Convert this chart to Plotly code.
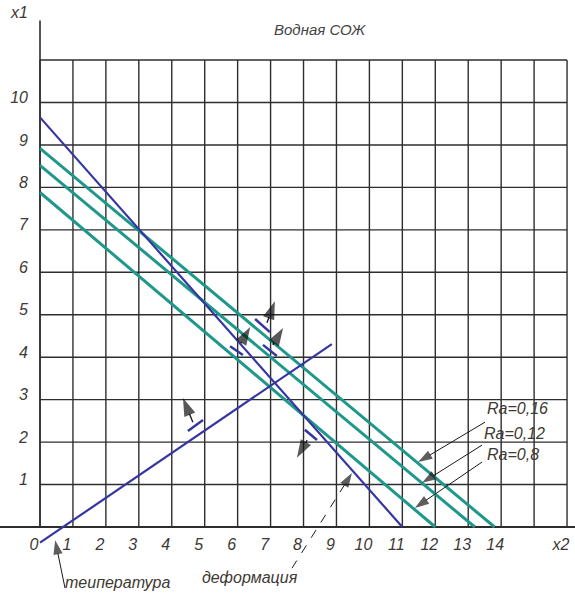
import plotly.graph_objects as go

# ---- data ----
grid_x2 = list(range(0, 17))          # vertical grid lines
grid_x1 = list(range(0, 12))          # horizontal grid lines
x2_ticks = list(range(0, 17))
x2_labels = [str(i) for i in range(0, 15)] + ["", "x2"]
x1_ticks = list(range(1, 11)) + [12]
x1_labels = [str(i) for i in range(1, 11)] + ["x1"]

# Ra lines (teal): intercepts on x1 axis and x2 axis
ra_names = ["Ra=0,16", "Ra=0,12", "Ra=0,8"]
ra_x1_start = [8.92, 8.52, 7.88]
ra_x2_end = [13.8, 13.2, 12.0]

# deformation line (blue)
def_x2 = [0.0, 11.0]
def_x1 = [9.65, 0.0]

# temperature line (blue)
temp_x2 = [0.0, 8.86]
temp_x1 = [-0.37, 4.31]

# short offset marks (x2a, x1a, x2b, x1b) and their arrows (tail -> head)
mark_segs = [(6.53, 4.90, 6.98, 4.59), (5.77, 4.26, 6.16, 4.05),
             (6.77, 4.29, 7.19, 4.03), (4.49, 2.26, 4.95, 2.52),
             (8.04, 2.29, 8.41, 2.05)]
mark_arrows = [(6.89, 4.81, 7.13, 5.32), (6.10, 4.33, 6.38, 4.71),
               (7.07, 4.29, 7.38, 4.69), (4.64, 2.47, 4.34, 3.04),
               (8.11, 2.05, 7.80, 1.63)]

# callouts: text position, arrow tail, arrow head
ra_text = [(14.51, 2.80), (14.42, 2.21), (14.36, 1.70)]
ra_tail = [(13.51, 2.47), (13.42, 1.93), (13.42, 1.53)]
ra_head = [(11.48, 1.53), (11.60, 1.04), (11.38, 0.45)]
temp_callout = [(0.76, -1.44), (0.46, -0.31)]   # tail, head
def_callout = [(7.65, -0.97), (9.47, 1.27)]     # tail, head

BLUE = "#3636a2"
TEAL = "#1f978a"
GRID = "#2e2e2e"
TXT = "#3d3933"
FONT = "Liberation Sans, Arial"

fig = go.Figure()


def arrow(tail, head, width=1.0, size=15, dash="solid", color="#1a1a1a"):
    fig.add_trace(go.Scatter(
        x=[tail[0], head[0]], y=[tail[1], head[1]], mode="lines+markers",
        line=dict(color=color, width=width, dash=dash),
        marker=dict(symbol="arrow", size=[0, size], angleref="previous",
                    color=color, line=dict(width=0)),
        hoverinfo="skip"))


# grid
gx, gy = [], []
for v in grid_x2:
    gx += [v, v, None]
    gy += [0, grid_x1[-1], None]
for h in grid_x1:
    gx += [grid_x2[0], grid_x2[-1], None]
    gy += [h, h, None]
fig.add_trace(go.Scatter(x=gx, y=gy, mode="lines",
                         line=dict(color=GRID, width=1.4), hoverinfo="skip"))
# vertical axis extension
fig.add_trace(go.Scatter(x=[0, 0], y=[0, 11.93], mode="lines",
                         line=dict(color=GRID, width=1.6), hoverinfo="skip"))

# Ra lines
for n, a, b in zip(ra_names, ra_x1_start, ra_x2_end):
    fig.add_trace(go.Scatter(x=[0, b], y=[a, 0], mode="lines", name=n,
                             line=dict(color=TEAL, width=3)))

fig.add_trace(go.Scatter(x=def_x2, y=def_x1, mode="lines", name="деформация",
                         line=dict(color=BLUE, width=2.2)))
fig.add_trace(go.Scatter(x=temp_x2, y=temp_x1, mode="lines", name="температура",
                         line=dict(color=BLUE, width=2.2)))

for s in mark_segs:
    fig.add_trace(go.Scatter(x=[s[0], s[2]], y=[s[1], s[3]], mode="lines",
                             line=dict(color=BLUE, width=2.5), hoverinfo="skip"))

for t in mark_arrows:
    arrow((t[0], t[1]), (t[2], t[3]), width=1.3, size=19, color="#111")

ann = []
for (tx, ty), tail, head, n in zip(ra_text, ra_tail, ra_head, ra_names):
    arrow(tail, head)
    ann.append(dict(x=tx, y=ty, xref="x", yref="y", text=n, showarrow=False,
                    font=dict(family=FONT, size=16, color=TXT, style="italic")))

arrow(temp_callout[0], temp_callout[1])
ann.append(dict(x=2.37, y=-1.30, xref="x", yref="y", text="теипература",
                showarrow=False,
                font=dict(family=FONT, size=16, color=TXT, style="italic")))
arrow(def_callout[0], def_callout[1], dash="dash")
ann.append(dict(x=6.38, y=-1.20, xref="x", yref="y", text="деформация",
                showarrow=False,
                font=dict(family=FONT, size=16, color=TXT, style="italic")))
# title
ann.append(dict(x=8.5, y=11.71, xref="x", yref="y", text="Водная СОЖ",
                showarrow=False,
                font=dict(family=FONT, size=15, color="#444", style="italic")))

W, H = 575, 594
x0px, y0px, ux, uy = 40, 527, 32.94, 42.45
fig.update_layout(
    width=W, height=H, margin=dict(l=0, r=0, t=0, b=0),
    paper_bgcolor="white", plot_bgcolor="white", showlegend=False,
    annotations=ann,
    xaxis=dict(range=[-x0px / ux, (W - x0px) / ux], showgrid=False,
               zeroline=False, showline=False, anchor="free", automargin=False,
               position=(H - y0px) / H, tickvals=x2_ticks, ticktext=x2_labels,
               ticks="", ticklabelshift=-6, ticklabelstandoff=6,
               tickfont=dict(family=FONT, size=16, color=TXT, style="italic")),
    yaxis=dict(range=[(y0px - H) / uy, y0px / uy], showgrid=False,
               zeroline=True, zerolinecolor=GRID, zerolinewidth=1.6,
               showline=False, anchor="free", position=x0px / W, automargin=False,
               tickvals=x1_ticks, ticktext=x1_labels, ticks="",
               ticklabelshift=-5, ticklabelstandoff=12,
               tickfont=dict(family=FONT, size=16, color=TXT, style="italic")),
)
fig.write_html(
    "out.html",
    config={"displayModeBar": False},
    post_script="document.body.style.margin='0';document.body.style.overflow='hidden';",
)
